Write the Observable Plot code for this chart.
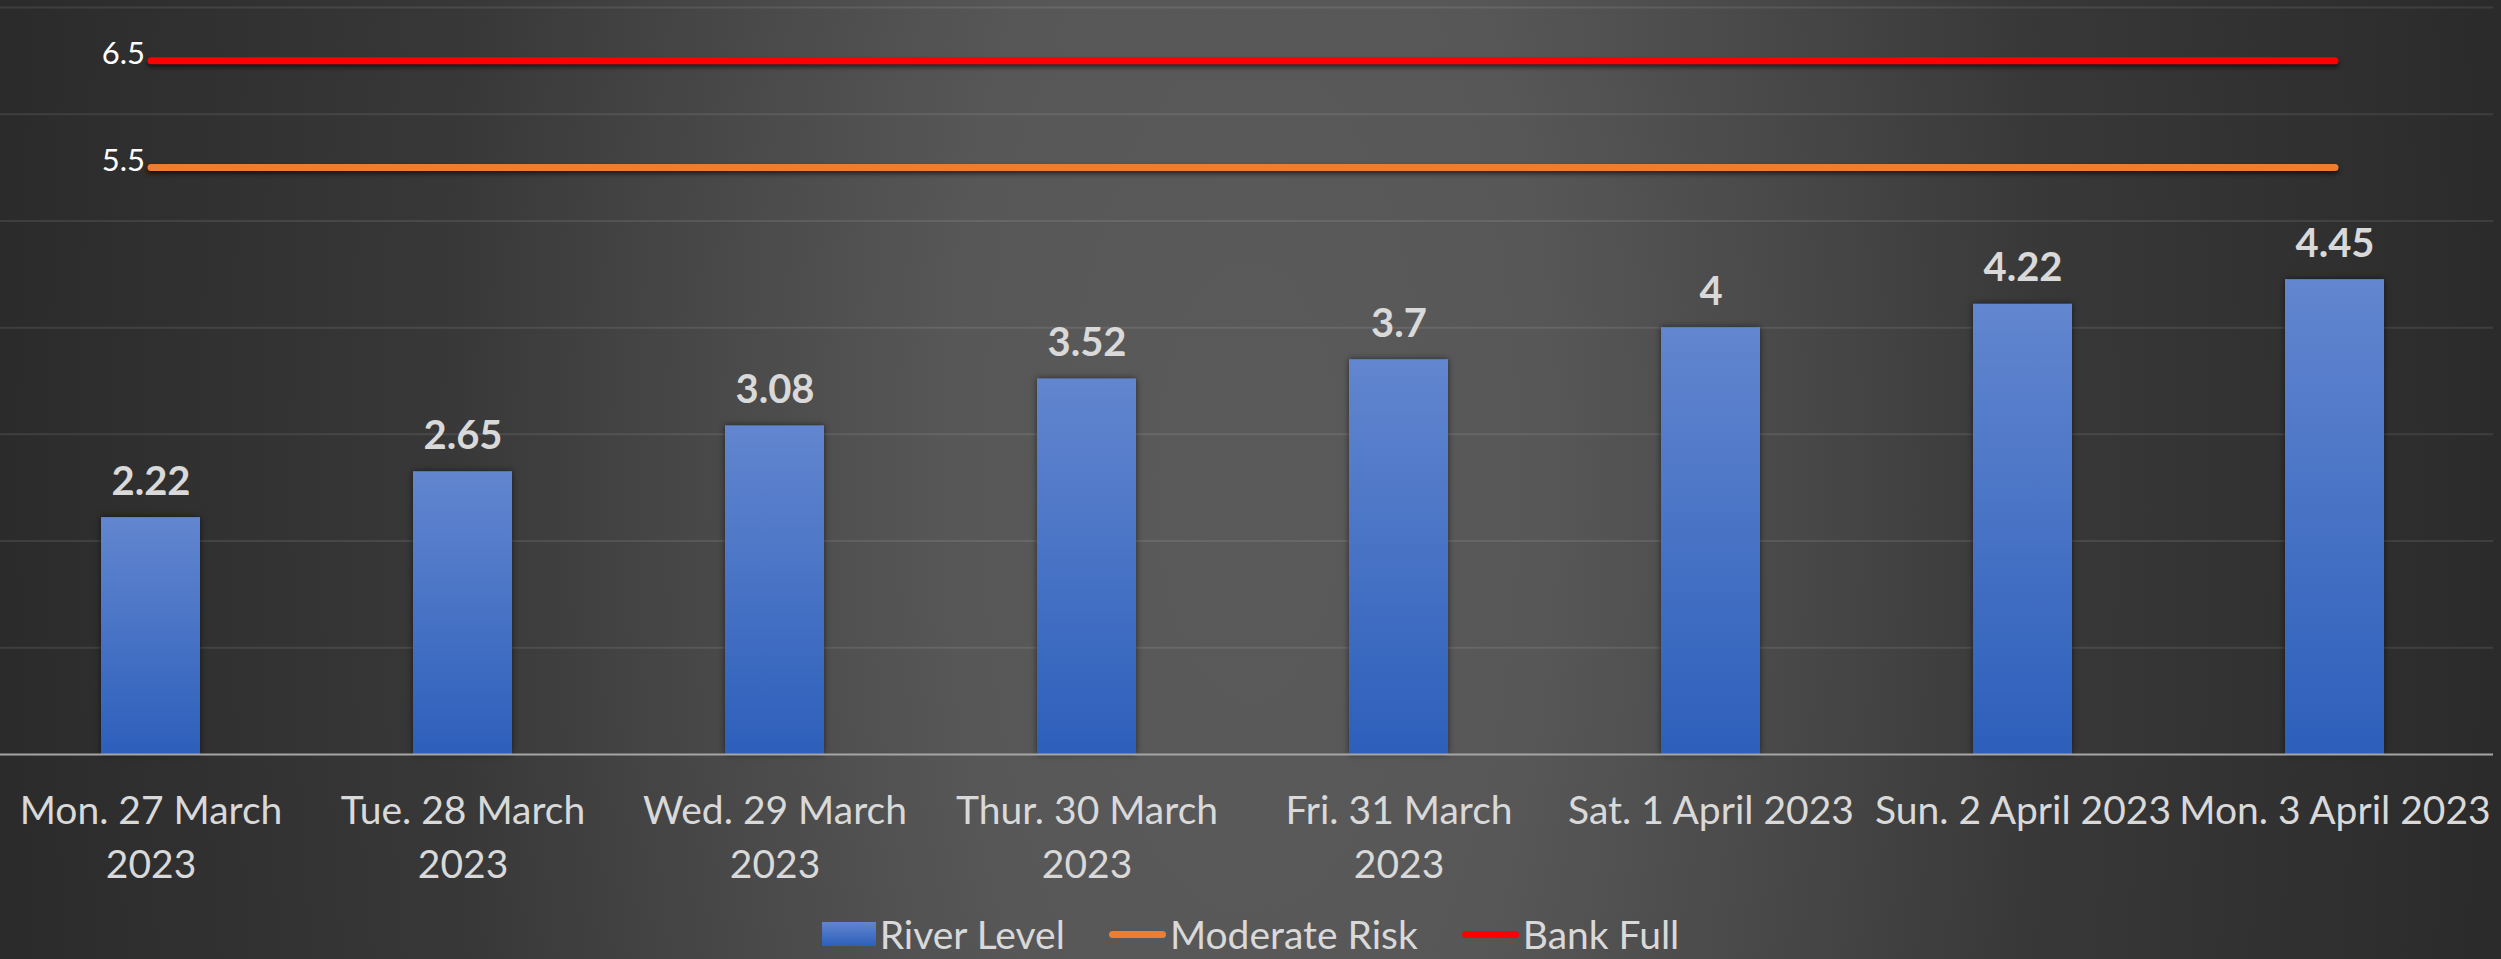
<!DOCTYPE html>
<html>
<head>
<meta charset="utf-8">
<script src="https://cdn.jsdelivr.net/npm/d3@7"></script>
<script src="https://cdn.jsdelivr.net/npm/@observablehq/plot@0.6"></script>
<style>
  html, body { margin: 0; padding: 0; background: #2b2b2b; }
  #wrap {
    position: relative; width: 2501px; height: 959px; overflow: hidden;
    background: radial-gradient(ellipse 1250px 3000px at 1250px 480px,
      #5a5a5a 0%, #575757 24%, #484848 44%, #383838 64%, #2b2b2b 100%);
    font-family: Lato, "Open Sans", sans-serif;
  }
  #chart { position: absolute; left: 0; top: 0; }
  #legend {
    position: absolute; left: 0; top: 915px; width: 2501px; height: 38px;
    display: flex; justify-content: center; align-items: center;
    color: #d9d9d9; font-size: 39px; line-height: 38px;
  }
  .item { display: flex; align-items: center; margin: 0 22px; }
  .sw-bar { width: 54px; height: 24px; background: linear-gradient(#6286cf, #2d5fbb); margin-right: 4px; }
  .sw-line { width: 57px; height: 7px; border-radius: 4px; margin-right: 4px; }
</style>
</head>
<body>
<div id="wrap">
  <div id="chart"></div>
  <div id="legend"></div>
</div>
<script>
// ---- data ----
const categories = [
  "Mon. 27 March 2023", "Tue. 28 March 2023", "Wed. 29 March 2023", "Thur. 30 March 2023",
  "Fri. 31 March 2023", "Sat. 1 April 2023", "Sun. 2 April 2023", "Mon. 3 April 2023"
];
const categoryLabels = [
  "Mon. 27 March\n2023", "Tue. 28 March\n2023", "Wed. 29 March\n2023", "Thur. 30 March\n2023",
  "Fri. 31 March\n2023", "Sat. 1 April 2023", "Sun. 2 April 2023", "Mon. 3 April 2023"
];
const riverLevel   = [2.22, 2.65, 3.08, 3.52, 3.7, 4, 4.22, 4.45];
const moderateRisk = [5.5, 5.5, 5.5, 5.5, 5.5, 5.5, 5.5, 5.5];
const bankFull     = [6.5, 6.5, 6.5, 6.5, 6.5, 6.5, 6.5, 6.5];
const yGrid = [1, 2, 3, 4, 5, 6, 7];
const yDomain = [0, 7];
const seriesNames = ["River Level", "Moderate Risk", "Bank Full"];
const seriesColors = ["#4472c4", "#ed7d31", "#ff0000"];

// ---- tables ----
const bars = categories.map((c, i) => ({category: c, value: riverLevel[i], label: categoryLabels[i]}));
const mod  = categories.map((c, i) => ({category: c, value: moderateRisk[i]}));
const bank = categories.map((c, i) => ({category: c, value: bankFull[i]}));

const defs = () => {
  const d = d3.create("svg:defs");
  const g = d.append("linearGradient").attr("id", "barGrad")
    .attr("x1", 0).attr("y1", 0).attr("x2", 0).attr("y2", 1);
  g.append("stop").attr("offset", "0%").attr("stop-color", "#6286cf");
  g.append("stop").attr("offset", "100%").attr("stop-color", "#2d5fbb");
  return d.node();
};

const fontSize = 39;

const chart = Plot.plot({
  width: 2501,
  height: 895,
  marginTop: 7,
  marginBottom: 141,
  marginLeft: 0,
  marginRight: 8,
  style: {background: "transparent", fontFamily: "Lato, 'Open Sans', sans-serif", overflow: "visible"},
  x: {domain: categories, range: [-9, 2493], paddingInner: 0.683, paddingOuter: 0.3415, axis: null},
  y: {domain: yDomain, axis: null},
  marks: [
    defs,
    Plot.ruleY(yGrid, {stroke: "#ffffff", strokeOpacity: 0.09, strokeWidth: 2}),
    Plot.barY(bars, {x: "category", y: "value", fill: "url(#barGrad)"}),
    Plot.ruleY([0], {stroke: "#a6a6a6", strokeWidth: 2}),
    Plot.lineY(mod, {x: "category", y: "value", stroke: seriesColors[1], strokeWidth: 7, strokeLinecap: "round"}),
    Plot.lineY(bank, {x: "category", y: "value", stroke: seriesColors[2], strokeWidth: 7, strokeLinecap: "round"}),
    Plot.text(bars, {x: "category", y: "value", text: d => `${d.value}`, dy: -23, lineAnchor: "bottom",
      fontSize: 40, fontWeight: 700, fill: "#d9d9d9"}),
    Plot.text(bars, {x: "category", y: () => 0, text: "label", lineAnchor: "top", dy: 31, lineHeight: 1.38,
      fontSize, fill: "#d9d9d9"}),
    Plot.text([mod[0], bank[0]], {x: "category", y: "value", text: d => `${d.value}`, textAnchor: "end",
      dx: -6, dy: 3, lineAnchor: "bottom", fontSize: 31, fill: "#ffffff"})
  ]
});

chart.querySelectorAll('g[aria-label="line"]').forEach(g => g.style.filter = "drop-shadow(0px 3px 2px rgba(0,0,0,0.55))");
chart.querySelectorAll('g[aria-label="bar"]').forEach(g => g.style.filter = "drop-shadow(0px 0px 3px rgba(0,0,0,0.55))");
document.getElementById("chart").appendChild(chart);

// ---- legend ----
const legend = document.getElementById("legend");
seriesNames.forEach((name, i) => {
  const item = document.createElement("div");
  item.className = "item";
  const sw = document.createElement("div");
  if (i === 0) { sw.className = "sw-bar"; }
  else { sw.className = "sw-line"; sw.style.background = seriesColors[i]; }
  const t = document.createElement("span");
  t.textContent = name;
  item.appendChild(sw); item.appendChild(t);
  legend.appendChild(item);
});
</script>
</body>
</html>
